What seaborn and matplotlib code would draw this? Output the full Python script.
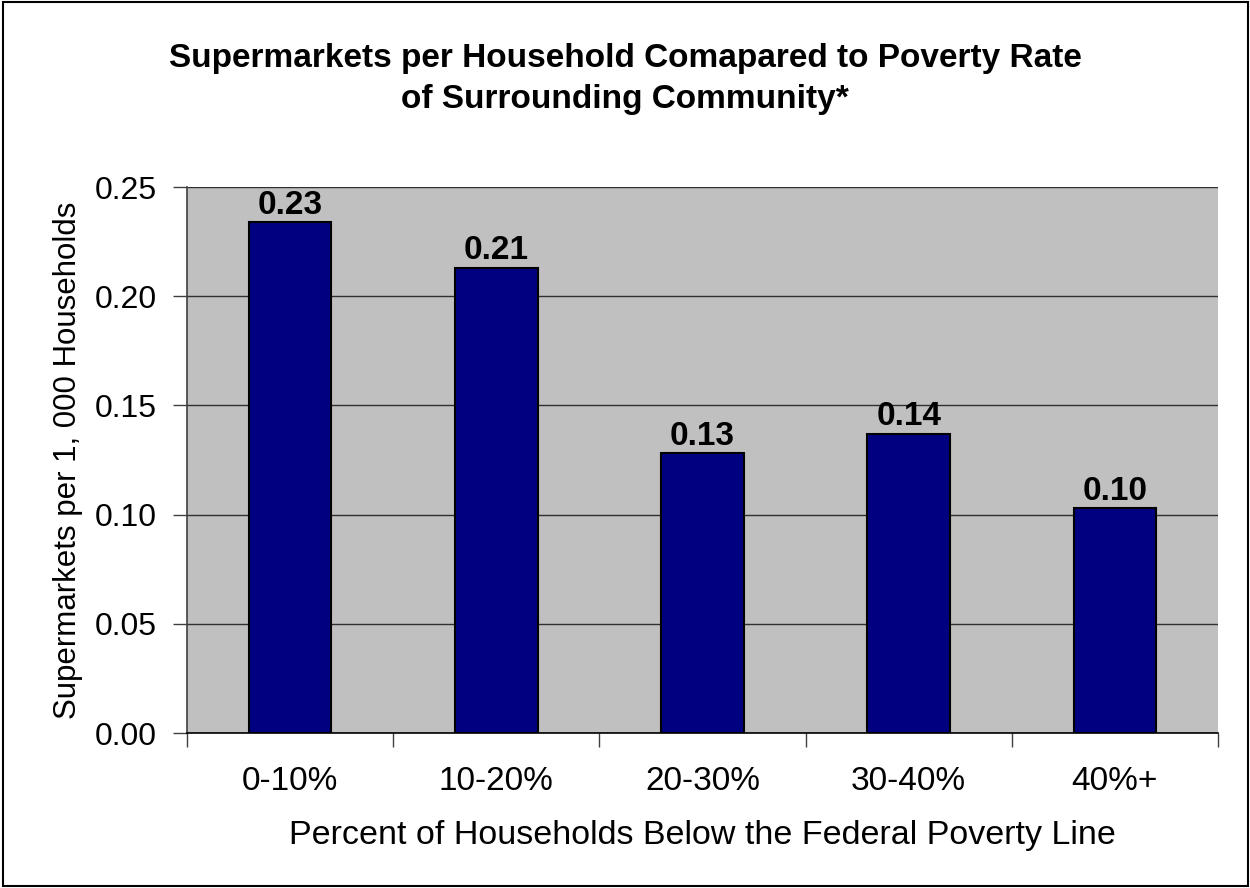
import matplotlib
matplotlib.use("Agg")
import matplotlib.pyplot as plt
import seaborn as sns
from matplotlib.patches import Rectangle

# Data
categories = ['0-10%', '10-20%', '20-30%', '30-40%', '40%+']
values = [0.234, 0.213, 0.128, 0.137, 0.103]
value_labels = ['0.23', '0.21', '0.13', '0.14', '0.10']
y_ticks = [0.00, 0.05, 0.10, 0.15, 0.20, 0.25]

sns.set_style('white')
plt.rcParams['font.family'] = ['Liberation Sans', 'DejaVu Sans']
plt.rcParams['text.color'] = 'black'
plt.rcParams['axes.labelcolor'] = 'black'

fig = plt.figure(figsize=(12.5, 8.88), dpi=100)
ax = fig.add_axes([0.1496, 0.1745, 0.8248, 0.6149])
ax.set_facecolor('#C0C0C0')

sns.barplot(x=categories, y=values, color='#000080', width=0.4,
            edgecolor='black', linewidth=1.5, saturation=1, ax=ax)

# labels above bars
for cont in ax.containers:
    ax.bar_label(cont, labels=value_labels, padding=1, fontsize=24,
                 fontweight='bold', color='black')

ax.set_ylim(0, 0.25)
ax.set_xlim(-0.5, len(categories) - 0.5)
ax.set_yticks(y_ticks)
ax.set_yticklabels([f'{t:.2f}' for t in y_ticks], fontsize=23)
ax.yaxis.grid(True, color='#303030', linewidth=1)
ax.xaxis.grid(False)
ax.set_axisbelow(True)

# x ticks: labels at centres, marks between categories
ax.tick_params(axis='x', which='major', length=0, pad=24, labelsize=24,
               labelcolor='black')
ax.set_xticks([i - 0.5 for i in range(len(categories) + 1)], minor=True)
ax.tick_params(axis='x', which='minor', length=10, width=1, color='#404040',
               direction='out', bottom=True)
ax.tick_params(axis='y', length=10, width=1, color='#404040',
               direction='out', left=True, pad=12, labelcolor='black')

for s in ['top', 'right']:
    ax.spines[s].set_visible(False)
ax.spines['left'].set_color('#404040')
ax.spines['left'].set_linewidth(1.2)
ax.spines['bottom'].set_color('black')
ax.spines['bottom'].set_linewidth(1.2)

ax.set_xlabel('Percent of Households Below the Federal Poverty Line',
              fontsize=24.5, labelpad=16)
ax.set_ylabel('Supermarkets per 1, 000 Households', fontsize=22.5, labelpad=8)

fig.text(0.5, 0.952, 'Supermarkets per Household Comapared to Poverty Rate\n'
         'of Surrounding Community*', ha='center', va='top', fontsize=24,
         fontweight='bold', linespacing=1.45)

# outer border of the chart
fig.patches.append(Rectangle((0.002, 0.002), 0.996, 0.996,
                             transform=fig.transFigure, fill=False,
                             edgecolor='black', linewidth=1.5))

fig.savefig('out.png', dpi=100)
